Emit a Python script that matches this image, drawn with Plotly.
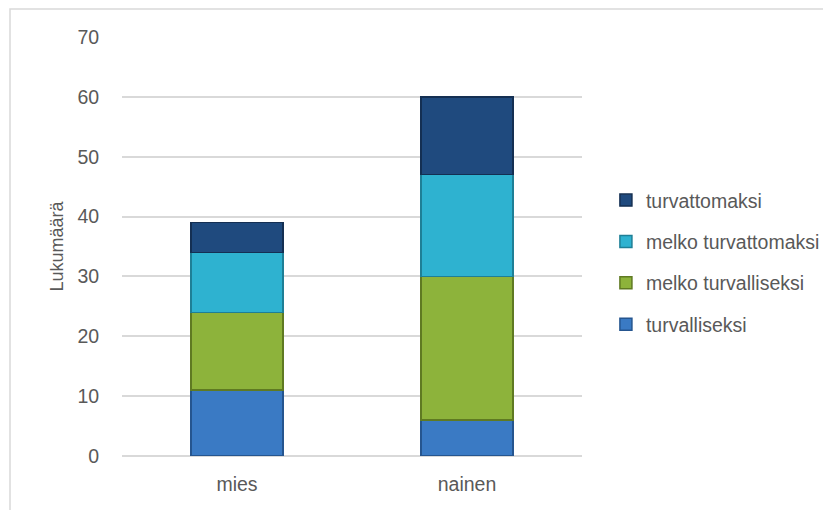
import plotly.graph_objects as go

# data
CATEGORIES = ["mies", "nainen"]
SERIES = ["turvalliseksi", "melko turvalliseksi", "melko turvattomaksi", "turvattomaksi"]
TURVALLISEKSI = [11, 6]
MELKO_TURVALLISEKSI = [13, 24]
MELKO_TURVATTOMAKSI = [10, 17]
TURVATTOMAKSI = [5, 13]
Y_TICKS = [0, 10, 20, 30, 40, 50, 60, 70]

COLORS = ["#3A7AC4", "#8DB33B", "#2EB2D0", "#1F4A7E"]
EDGES = ["#25558F", "#5F7A22", "#1E7F96", "#142F52"]
TEXT = "#595959"
GRID = "#D9D9D9"
FONT = "Liberation Sans, Arial, sans-serif"

# the page body adds an 8px offset, so margins are 8px smaller than on screen
L, T, PW, PH = 114, 29, 460, 419

fig = go.Figure()
for rank, (name, vals, col, edge) in enumerate(zip(
    SERIES,
    [TURVALLISEKSI, MELKO_TURVALLISEKSI, MELKO_TURVATTOMAKSI, TURVATTOMAKSI],
    COLORS, EDGES,
)):
    fig.add_trace(go.Bar(
        x=CATEGORIES, y=vals, name=name, legendgroup=name,
        legendrank=100 - rank,  # top of the stack first in the legend
        marker=dict(color=col, line=dict(color=edge, width=1.5)),
        width=0.4,
    ))

fig.update_layout(
    barmode="stack",
    width=831, height=510,
    paper_bgcolor="white", plot_bgcolor="white",
    margin=dict(l=L, r=831 - L - PW, t=T, b=510 - T - PH, autoexpand=False),
    font=dict(family=FONT, color=TEXT, size=19.5),
    showlegend=True,
    legend=dict(
        x=1.052, y=0.462, xanchor="left", yanchor="middle",
        traceorder="grouped", tracegroupgap=13,
        itemwidth=30,
        font=dict(family=FONT, color=TEXT, size=19.5),
        bgcolor="rgba(0,0,0,0)",
    ),
)
fig.update_yaxes(
    range=[0, 70], tickvals=Y_TICKS,
    showgrid=True, gridcolor=GRID, gridwidth=1.5,
    zeroline=True, zerolinecolor=GRID, zerolinewidth=1.5,
    ticks="outside", ticklen=18, tickcolor="rgba(0,0,0,0)",
    title=dict(text="Lukumäärä", standoff=9, font=dict(size=18)),
)
fig.update_xaxes(showgrid=False, ticks="outside", ticklen=11,
                 tickcolor="rgba(0,0,0,0)")

# outer chart frame (light grey, runs off the bottom/right of the picture)
fig.add_shape(type="rect", xref="paper", yref="paper",
              x0=(2 - L) / PW, x1=(830 - L) / PW,
              y0=-0.3, y1=1 + (T - 1) / PH,
              line=dict(color="#D9D9D9", width=1.5), layer="below")

fig.write_html("out.html")
